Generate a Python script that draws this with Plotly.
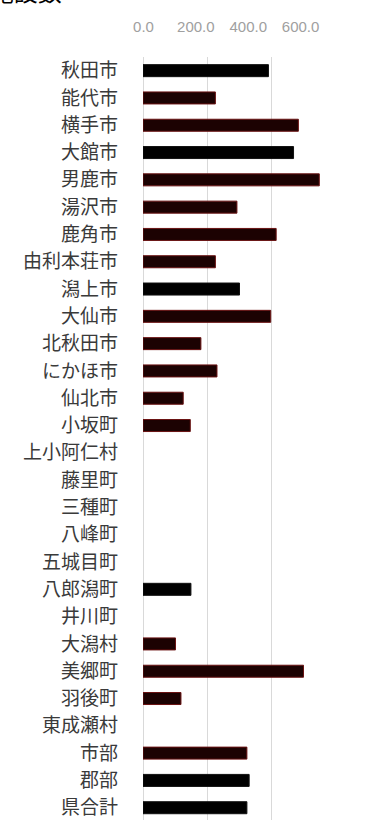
import plotly.graph_objects as go

# 市町村別の件数
municipalities = [
    "秋田市", "能代市", "横手市", "大館市", "男鹿市", "湯沢市", "鹿角市",
    "由利本荘市", "潟上市", "大仙市", "北秋田市", "にかほ市", "仙北市", "小坂町",
    "上小阿仁村", "藤里町", "三種町", "八峰町", "五城目町", "八郎潟町", "井川町",
    "大潟村", "美郷町", "羽後町", "東成瀬村", "市部", "郡部", "県合計",
]
values = [
    390, 225, 483, 468, 548, 292, 414,
    225, 300, 397, 180, 230, 125, 147,
    None, None, None, None, None, 149, None,
    101, 499, 118, None, 323, 330, 323,
]
tick_values = [0, 200, 400, 600]
tick_labels = ["0.0", "200.0", "400.0", "600.0"]
title_text = "人口10万人当たり施設数"

# two near-black tones for the bars
dark_names = {"秋田市", "大館市", "潟上市", "八郎潟町", "郡部", "県合計"}
bar_colors = ["#000000" if m in dark_names else "#1c0202" for m in municipalities]
edge_colors = ["#111111" if m in dark_names else "#6a1212" for m in municipalities]

fig = go.Figure()
fig.add_trace(go.Bar(
    x=values,
    y=municipalities,
    orientation="h",
    width=0.44,
    marker=dict(color=bar_colors, line=dict(color=edge_colors, width=1)),
    hoverinfo="x+y",
))
# invisible trace carrying the top tick-label axis
fig.add_trace(go.Scatter(
    x=[0, 600], y=[municipalities[0], municipalities[0]],
    xaxis="x2", mode="markers", marker=dict(opacity=0), hoverinfo="skip",
    showlegend=False,
))

fig.update_layout(
    width=374,
    height=820,
    margin=dict(l=142.5, r=38, t=57, b=0),
    paper_bgcolor="white",
    plot_bgcolor="white",
    showlegend=False,
    font=dict(family="Noto Sans CJK JP"),
    xaxis=dict(
        range=[0, 600],
        tickvals=tick_values,
        showticklabels=False,
        showgrid=True,
        gridcolor="#d9d9d9",
        gridwidth=1,
        zeroline=True,
        zerolinecolor="#d9d9d9",
        zerolinewidth=1,
        showline=False,
        fixedrange=True,
    ),
    xaxis2=dict(
        overlaying="x",
        side="top",
        range=[-1.9, 735.2],
        tickvals=tick_values,
        ticktext=tick_labels,
        showgrid=False,
        zeroline=False,
        showline=False,
        ticks="",
        ticklabelstandoff=21,
        tickfont=dict(family="Liberation Sans", size=15, color="#a0a0a0"),
        fixedrange=True,
    ),
    yaxis=dict(
        type="category",
        categoryorder="array",
        categoryarray=municipalities,
        range=[27.45, -0.5],
        showgrid=False,
        zeroline=False,
        showline=False,
        ticks="",
        ticklabelstandoff=24,
        tickfont=dict(family="Noto Sans CJK JP", size=19, color="#3a3a3a"),
        fixedrange=True,
    ),
    annotations=[
        dict(
            text=title_text,
            xref="paper", yref="paper",
            x=-0.41, y=1.0,
            xanchor="right", yanchor="bottom",
            yshift=47,
            showarrow=False,
            font=dict(family="Noto Sans CJK JP", size=24, color="#000000"),
        )
    ],
)

fig.write_html("out.html")
